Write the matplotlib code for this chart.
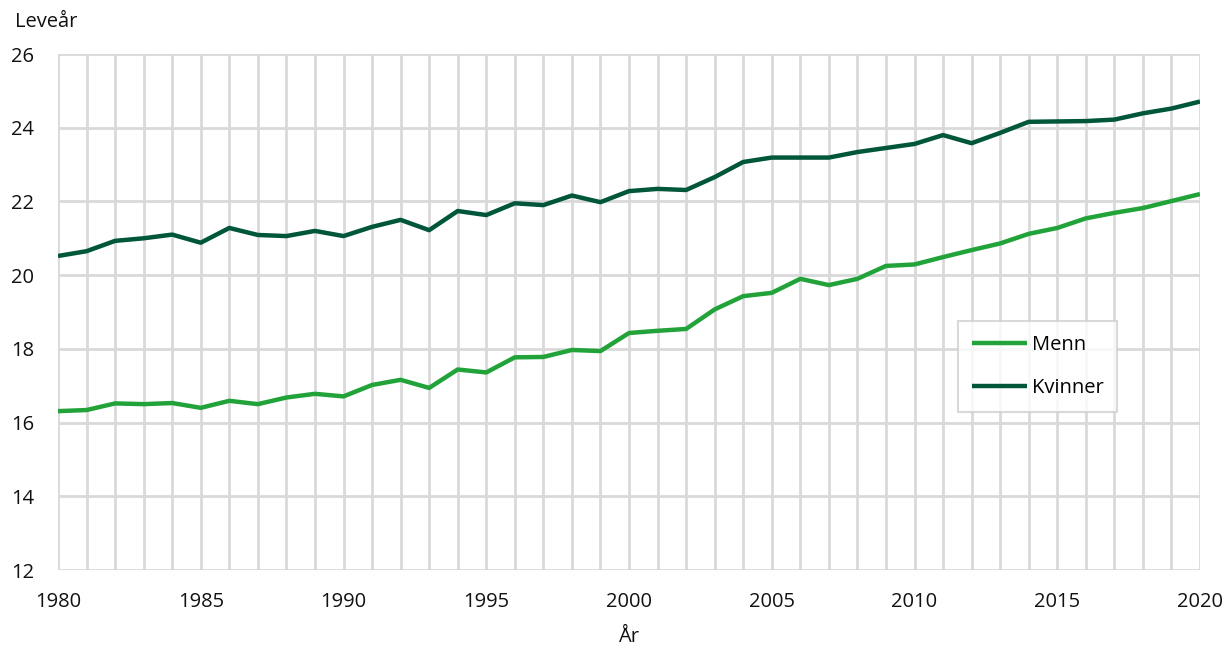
import matplotlib
matplotlib.use("Agg")
import matplotlib.pyplot as plt
from matplotlib.ticker import MultipleLocator

plt.rcParams["font.family"] = ["Open Sans", "DejaVu Sans"]

YEARS = list(range(1980, 2021))
MENN = [16.31, 16.34, 16.52, 16.50, 16.53, 16.40, 16.59, 16.50, 16.68, 16.78,
        16.71, 17.02, 17.16, 16.94, 17.44, 17.36, 17.77, 17.78, 17.97, 17.94,
        18.43, 18.49, 18.54, 19.07, 19.43, 19.52, 19.90, 19.73, 19.90, 20.25,
        20.29, 20.49, 20.68, 20.86, 21.12, 21.28, 21.54, 21.69, 21.82, 22.01,
        22.20]
KVINNER = [20.52, 20.65, 20.93, 21.00, 21.10, 20.88, 21.28, 21.09, 21.06, 21.20,
           21.06, 21.31, 21.50, 21.22, 21.74, 21.63, 21.95, 21.90, 22.16, 21.98,
           22.28, 22.34, 22.31, 22.66, 23.07, 23.19, 23.19, 23.19, 23.34, 23.45,
           23.56, 23.80, 23.58, 23.86, 24.16, 24.17, 24.18, 24.22, 24.39, 24.52,
           24.71]
GREEN = "#22a33a"
DARK = "#00563b"
GRID = "#d9d9d9"
FS = 14.5

fig = plt.figure(figsize=(12.28, 6.46), dpi=100)
ax = fig.add_axes([58 / 1228, 1 - 570 / 646, (1200 - 58) / 1228, (570 - 54) / 646])

ax.plot(YEARS, MENN, color=GREEN, lw=3.2, label="Menn", zorder=3, solid_capstyle="butt")
ax.plot(YEARS, KVINNER, color=DARK, lw=3.2, label="Kvinner", zorder=3, solid_capstyle="butt")

ax.set_xlim(1980, 2020)
ax.set_ylim(12, 26)
ax.set_xticks(range(1980, 2021, 5))
ax.xaxis.set_minor_locator(MultipleLocator(1))
ax.set_yticks(range(12, 27, 2))
ax.grid(True, which="both", axis="x", color=GRID, lw=2, zorder=0)
ax.grid(True, which="major", axis="y", color=GRID, lw=2, zorder=0)
for s in ax.spines.values():
    s.set_visible(False)
ax.tick_params(which="both", length=0, labelsize=FS, colors="#111111")
ax.tick_params(axis="x", pad=16)
ax.tick_params(axis="y", pad=17)

fig.text(15 / 1228, 1 - 22 / 646, "Leveår", fontsize=FS, va="center", ha="left", color="#111111")
fig.text(629 / 1228, 1 - 637 / 646, "År", fontsize=FS, va="center", ha="center", color="#111111")

leg = ax.legend(loc="upper left", bbox_to_anchor=((958 - 58) / 1142, (570 - 321) / 516),
                fontsize=FS, frameon=True, fancybox=False, edgecolor="#d0d0d0",
                handlelength=2.75, handletextpad=0.2, borderpad=0.7, labelspacing=1.15,
                borderaxespad=0)
leg.get_frame().set_linewidth(1.5)

fig.savefig("out.png", dpi=100, facecolor="white")
